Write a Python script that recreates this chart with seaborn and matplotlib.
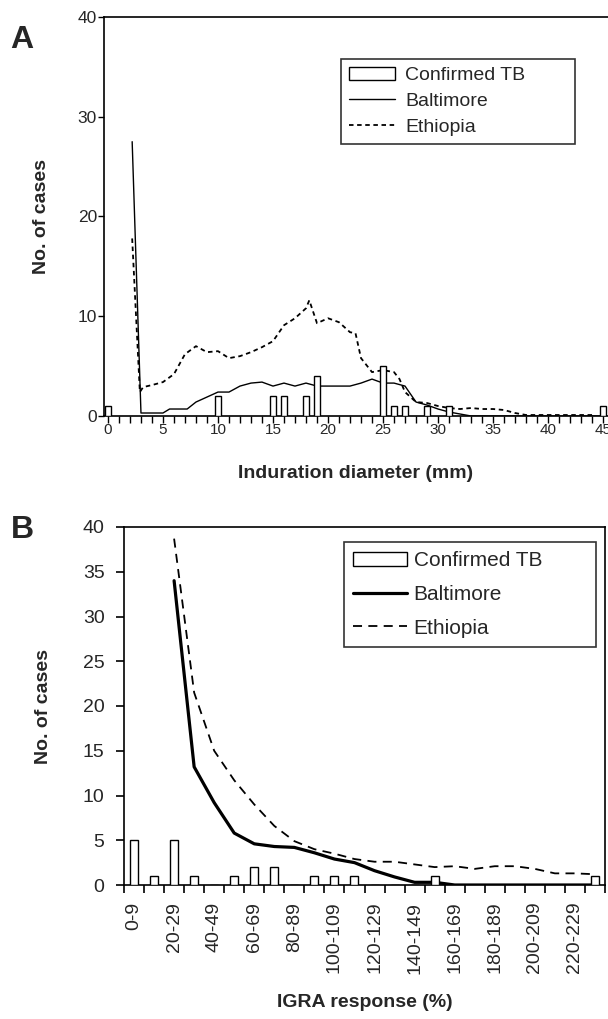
import seaborn as sns
import matplotlib.pyplot as plt
from matplotlib.patches import Patch
from matplotlib.lines import Line2D
import numpy as np

sns.set_style('ticks')
plt.rcParams['font.family'] = ['Liberation Sans', 'DejaVu Sans']

# ---- panel A : induration diameter (mm)
tb_a_x = [0, 10, 15, 16, 18, 19, 25, 26, 27, 29, 31, 45]
tb_a_y = [1, 2, 2, 2, 2, 4, 5, 1, 1, 1, 1, 1]

balt_a_x = [2.2, 3, 5, 5.6, 7.2, 8, 9, 10, 11, 12, 13, 14, 15, 16, 17, 18, 19, 20, 21, 22,
            23, 24, 25, 26, 27, 28, 29, 30, 31, 32, 33, 36, 40, 45]
balt_a_y = [27.5, 0.3, 0.3, 0.7, 0.7, 1.4, 1.9, 2.4, 2.4, 3.0, 3.3, 3.4, 3.0, 3.3, 3.0, 3.3, 3.0, 3.0, 3.0, 3.0,
            3.3, 3.7, 3.3, 3.3, 3.0, 1.4, 1.1, 0.7, 0.4, 0.2, 0.0, 0.0, 0.0, 0.0]

eth_a_x = [2.2, 2.9, 3.2, 4, 5, 6, 7, 8, 9, 10, 11, 12, 13, 14, 15, 16, 17, 18, 18.3, 19, 20, 21, 22,
           22.5, 23, 24, 25, 26, 26.5, 27, 28, 29, 30, 31, 32, 33, 34, 35, 36, 37, 38, 40, 42, 44]
eth_a_y = [17.8, 2.4, 2.9, 3.1, 3.4, 4.2, 6.2, 7.0, 6.4, 6.5, 5.8, 6.0, 6.4, 6.9, 7.5, 9.1, 9.8, 10.8, 11.6, 9.3, 9.8, 9.4, 8.4,
           8.3, 5.8, 4.4, 4.6, 4.4, 3.7, 2.4, 1.4, 1.3, 1.0, 0.8, 0.7, 0.8, 0.7, 0.7, 0.6, 0.3, 0.1, 0.1, 0.1, 0.1]

# ---- panel B : IGRA response (%)
igra_bins = ['0-9', '10-19', '20-29', '30-39', '40-49', '50-59', '60-69', '70-79', '80-89', '90-99',
             '100-109', '110-119', '120-129', '130-139', '140-149', '150-159', '160-169', '170-179',
             '180-189', '190-199', '200-209', '210-219', '220-229', '230-239']
tb_b = [5, 1, 5, 1, 0, 1, 2, 2, 0, 1, 1, 1, 0, 0, 0, 1, 0, 0, 0, 0, 0, 0, 0, 1]
balt_b = [None, None, 34, 13.2, 9.2, 5.8, 4.6, 4.3, 4.2, 3.6, 2.9, 2.5, 1.6, 0.9, 0.3, 0.3,
          0, 0, 0, 0, 0, 0, 0, 0]
eth_b = [None, None, 38.7, 21.5, 15, 11.7, 9.0, 6.6, 4.9, 4.0, 3.5, 2.9, 2.6, 2.6, 2.3, 2.0,
         2.1, 1.8, 2.1, 2.1, 1.8, 1.3, 1.3, 1.2]

fig = plt.figure(figsize=(6.08, 10.19), dpi=100)

# ===== A =====
ax = fig.add_axes([104 / 608, 1 - 416 / 1019, 504 / 608, 399 / 1019])
sns.barplot(x=tb_a_x, y=tb_a_y, native_scale=True, width=0.6, color='white',
            edgecolor='black', linewidth=1.0, ax=ax, zorder=3)
sns.lineplot(x=balt_a_x, y=balt_a_y, color='black', linewidth=1.0, sort=False, ax=ax, zorder=2)
sns.lineplot(x=eth_a_x, y=eth_a_y, color='black', linewidth=1.3, sort=False, ax=ax, zorder=2,
             linestyle=(0, (2.5, 2)))
ax.set_xlim(-0.36, 45.45)
ax.set_ylim(0, 40)
ax.set_xticks(range(46))
ax.set_xticklabels([str(i) if i % 5 == 0 else '' for i in range(46)], fontsize=11)
ax.set_yticks([0, 10, 20, 30, 40])
ax.set_yticklabels(['0', '10', '20', '30', '40'], fontsize=12.5)
ax.tick_params(axis='x', length=5, width=1, pad=0, color='black')
ax.tick_params(axis='y', length=4, width=1, pad=1, color='black')
for s in ['left', 'bottom', 'top']:
    ax.spines[s].set_visible(True)
    ax.spines[s].set_color('black')
    ax.spines[s].set_linewidth(1.2)
ax.spines['right'].set_visible(False)
ax.set_xlabel('Induration diameter (mm)', fontsize=14, fontweight='bold', labelpad=20)
ax.set_ylabel('No. of cases', fontsize=14, fontweight='bold', labelpad=20)
handles = [Patch(facecolor='white', edgecolor='black', linewidth=1.0),
           Line2D([], [], color='black', linewidth=1.0),
           Line2D([], [], color='black', linewidth=1.3, linestyle=(0, (2.5, 2)))]
leg = ax.legend(handles, ['Confirmed TB', 'Baltimore', 'Ethiopia'], loc='upper left',
                bbox_to_anchor=(0.470, 0.895, 0.464, 0.0), mode='expand', fontsize=14,
                frameon=True, fancybox=False, edgecolor='black', handlelength=2.4,
                handletextpad=0.5, labelspacing=0.42, borderpad=0.4, borderaxespad=0)
leg.get_frame().set_linewidth(1.2)
fig.text(22 / 608, 1 - 40 / 1019, 'A', fontsize=23, fontweight='bold', ha='center', va='center')

# ===== B =====
bx = fig.add_axes([124 / 608, 1 - 885 / 1019, 481 / 608, 358 / 1019])
sns.barplot(x=igra_bins, y=tb_b, order=igra_bins, width=0.4, color='white',
            edgecolor='black', linewidth=1.0, ax=bx, zorder=3)
pos = np.arange(len(igra_bins))
sns.lineplot(x=pos, y=np.array(balt_b, dtype=float), color='black', linewidth=2.3, ax=bx, zorder=2)
sns.lineplot(x=pos, y=np.array(eth_b, dtype=float), color='black', linewidth=1.3, ax=bx, zorder=2,
             linestyle=(0, (5, 3.5)))
bx.set_xlim(-0.5, 23.5)
bx.set_ylim(0, 40)
bx.set_xticks(np.arange(-0.5, 24, 1))
bx.set_xticklabels([])
bx.set_xticks(pos[::2], minor=True)
bx.set_xticklabels(igra_bins[::2], minor=True, rotation=90, fontsize=14)
bx.tick_params(axis='x', which='major', length=6, width=1.2, color='black')
bx.tick_params(axis='x', which='minor', length=0, pad=12)
bx.set_yticks(range(0, 41, 5))
bx.set_yticklabels([str(v) for v in range(0, 41, 5)], fontsize=14)
bx.tick_params(axis='y', length=6, width=1.2, pad=8, color='black')
for s in bx.spines.values():
    s.set_visible(True)
    s.set_color('black')
    s.set_linewidth(1.2)
bx.set_xlabel('IGRA response (%)', fontsize=14, fontweight='bold', labelpad=15)
bx.set_ylabel('No. of cases', fontsize=14, fontweight='bold', labelpad=22)
handles_b = [Patch(facecolor='white', edgecolor='black', linewidth=1.0),
             Line2D([], [], color='black', linewidth=2.3),
             Line2D([], [], color='black', linewidth=1.3, linestyle=(0, (5, 3.5)))]
leg_b = bx.legend(handles_b, ['Confirmed TB', 'Baltimore', 'Ethiopia'], loc='upper left',
                  bbox_to_anchor=(0.457, 0.958, 0.524, 0.0), mode='expand', fontsize=15,
                  frameon=True, fancybox=False, edgecolor='black', handlelength=2.6,
                  handletextpad=0.3, labelspacing=0.7, borderpad=0.45, borderaxespad=0)
leg_b.get_frame().set_linewidth(1.2)
fig.text(22 / 608, 1 - 530 / 1019, 'B', fontsize=23, fontweight='bold', ha='center', va='center')

fig.savefig('out.png', dpi=100)
